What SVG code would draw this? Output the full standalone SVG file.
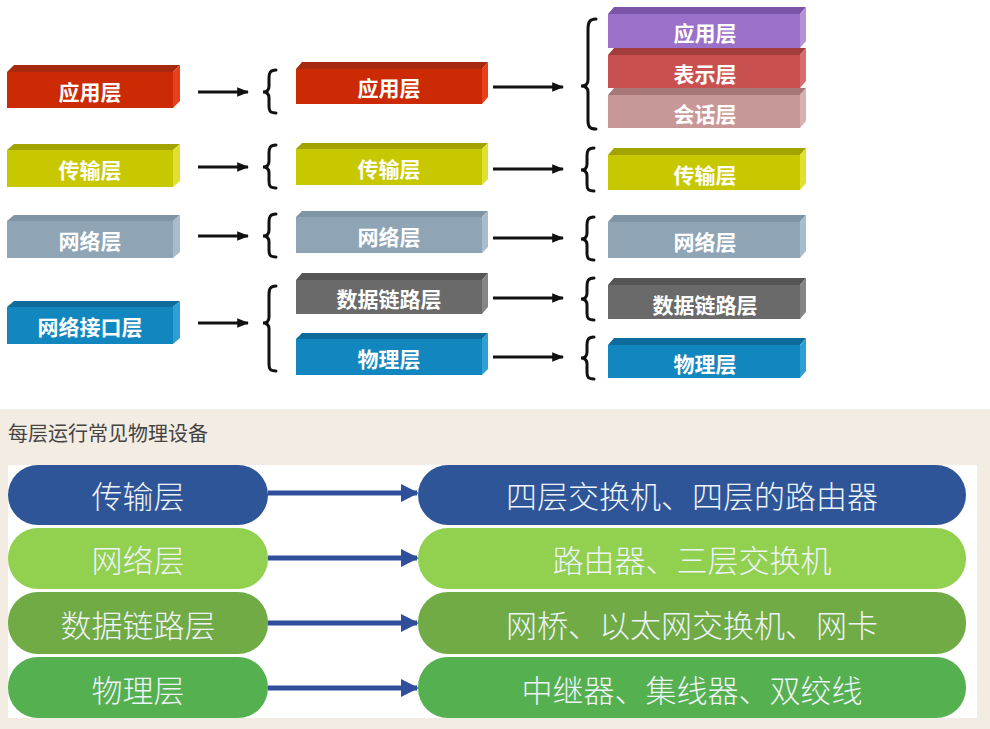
<svg xmlns="http://www.w3.org/2000/svg" width="990" height="729" viewBox="0 0 990 729">
<defs>
<style>
.t{font-family:"Noto Sans CJK SC","Noto Sans",sans-serif;font-weight:bold;font-size:21px;fill:#fff;text-anchor:middle;dominant-baseline:central}
.p{font-family:"Noto Sans CJK SC","Noto Sans",sans-serif;font-weight:300;font-size:31px;fill:#eef3f8;text-anchor:middle;dominant-baseline:central}
.ar{stroke:#111;stroke-width:3;fill:none}
.br{stroke:#111;stroke-width:3;fill:none;stroke-linecap:round}
.ba{stroke:#2f4f9a;stroke-width:5;fill:none}
</style>
<marker id="ah" viewBox="0 0 10 10" refX="9" refY="5" markerWidth="4" markerHeight="4" orient="auto" markerUnits="strokeWidth"><path d="M0,1 L10,5 L0,9 z" fill="#111"/></marker>
<marker id="bh" viewBox="0 0 10 10" refX="9" refY="5" markerWidth="3.6" markerHeight="3.6" orient="auto" markerUnits="strokeWidth"><path d="M0,0 L10,5 L0,10 z" fill="#2f4f9a"/></marker>
</defs>
<rect width="990" height="729" fill="#fff"/>

<!-- Left column -->
<g id="l-app">
<polygon points="7,72 14,65 180,65 173,72" fill="#a52a10"/>
<rect x="7" y="72" width="166" height="36" fill="#cc2a05"/>
<polygon points="173,72 180,65 180,101 173,108" fill="#e8401a"/>
<text class="t" x="90" y="91">应用层</text>
</g>
<g id="l-trans">
<polygon points="7,150 14,144 180,144 173,150" fill="#a3a300"/>
<rect x="7" y="150" width="166" height="37" fill="#c8c800"/>
<polygon points="173,150 180,144 180,181 173,187" fill="#e0e030"/>
<text class="t" x="90" y="169">传输层</text>
</g>
<g id="l-net">
<polygon points="7,221 14,215 180,215 173,221" fill="#7f95a5"/>
<rect x="7" y="221" width="166" height="37" fill="#8fa5b5"/>
<polygon points="173,221 180,215 180,252 173,258" fill="#a9bccb"/>
<text class="t" x="90" y="240">网络层</text>
</g>
<g id="l-nif">
<polygon points="7,307 14,301 180,301 173,307" fill="#0d6c9c"/>
<rect x="7" y="307" width="166" height="37" fill="#1287bf"/>
<polygon points="173,307 180,301 180,338 173,344" fill="#2fa0d5"/>
<text class="t" x="90" y="326">网络接口层</text>
</g>

<!-- Middle column -->
<g id="m-app">
<polygon points="296,69 302,62 488,62 482,69" fill="#a52a10"/>
<rect x="296" y="69" width="186" height="35" fill="#cc2a05"/>
<polygon points="482,69 488,62 488,97 482,104" fill="#e8401a"/>
<text class="t" x="389" y="87">应用层</text>
</g>
<g id="m-trans">
<polygon points="296,149 302,143 488,143 482,149" fill="#a3a300"/>
<rect x="296" y="149" width="186" height="36" fill="#c8c800"/>
<polygon points="482,149 488,143 488,179 482,185" fill="#e0e030"/>
<text class="t" x="389" y="168">传输层</text>
</g>
<g id="m-net">
<polygon points="296,217 302,211 488,211 482,217" fill="#7f95a5"/>
<rect x="296" y="217" width="186" height="36" fill="#8fa5b5"/>
<polygon points="482,217 488,211 488,247 482,253" fill="#a9bccb"/>
<text class="t" x="389" y="236">网络层</text>
</g>
<g id="m-dl">
<polygon points="296,280 302,273 488,273 482,280" fill="#555"/>
<rect x="296" y="280" width="186" height="34" fill="#6a6a6a"/>
<polygon points="482,280 488,273 488,307 482,314" fill="#858585"/>
<text class="t" x="389" y="298">数据链路层</text>
</g>
<g id="m-phy">
<polygon points="296,339 302,333 488,333 482,339" fill="#0d6c9c"/>
<rect x="296" y="339" width="186" height="36" fill="#1287bf"/>
<polygon points="482,339 488,333 488,369 482,375" fill="#2fa0d5"/>
<text class="t" x="389" y="358">物理层</text>
</g>

<!-- Right column -->
<g id="r-app">
<polygon points="608,14 614,7 806,7 800,14" fill="#7d55a8"/>
<rect x="608" y="14" width="192" height="34" fill="#9b70c8"/>
<polygon points="800,14 806,7 806,41 800,48" fill="#b392d8"/>
<text class="t" x="705" y="32">应用层</text>
</g>
<g id="r-pres">
<polygon points="608,55 614,48 806,48 800,55" fill="#a23d3d"/>
<rect x="608" y="55" width="192" height="33" fill="#c85050"/>
<polygon points="800,55 806,48 806,81 800,88" fill="#d86c6c"/>
<text class="t" x="705" y="73">表示层</text>
</g>
<g id="r-sess">
<polygon points="608,95 614,88 806,88 800,95" fill="#a87878"/>
<rect x="608" y="95" width="192" height="33" fill="#c89898"/>
<polygon points="800,95 806,88 806,121 800,128" fill="#d8b0b0"/>
<text class="t" x="705" y="113">会话层</text>
</g>
<g id="r-trans">
<polygon points="608,155 614,148 806,148 800,155" fill="#a3a300"/>
<rect x="608" y="155" width="192" height="35" fill="#c8c800"/>
<polygon points="800,155 806,148 806,183 800,190" fill="#e0e030"/>
<text class="t" x="705" y="174">传输层</text>
</g>
<g id="r-net">
<polygon points="608,222 614,215 806,215 800,222" fill="#7f95a5"/>
<rect x="608" y="222" width="192" height="36" fill="#8fa5b5"/>
<polygon points="800,222 806,215 806,251 800,258" fill="#a9bccb"/>
<text class="t" x="705" y="241">网络层</text>
</g>
<g id="r-dl">
<polygon points="608,285 614,278 806,278 800,285" fill="#555"/>
<rect x="608" y="285" width="192" height="34" fill="#6a6a6a"/>
<polygon points="800,285 806,278 806,312 800,319" fill="#858585"/>
<text class="t" x="705" y="304">数据链路层</text>
</g>
<g id="r-phy">
<polygon points="608,345 614,338 806,338 800,345" fill="#0d6c9c"/>
<rect x="608" y="345" width="192" height="33" fill="#1287bf"/>
<polygon points="800,345 806,338 806,371 800,378" fill="#2fa0d5"/>
<text class="t" x="705" y="363">物理层</text>
</g>

<g id="connectors">
<line class="ar" x1="198" y1="92" x2="248" y2="92" marker-end="url(#ah)"/>
<line class="ar" x1="198" y1="167" x2="248" y2="167" marker-end="url(#ah)"/>
<line class="ar" x1="198" y1="236" x2="248" y2="236" marker-end="url(#ah)"/>
<line class="ar" x1="198" y1="323" x2="248" y2="323" marker-end="url(#ah)"/>
<line class="ar" x1="493" y1="87" x2="563" y2="87" marker-end="url(#ah)"/>
<line class="ar" x1="493" y1="169" x2="563" y2="169" marker-end="url(#ah)"/>
<line class="ar" x1="493" y1="238" x2="563" y2="238" marker-end="url(#ah)"/>
<line class="ar" x1="493" y1="298" x2="563" y2="298" marker-end="url(#ah)"/>
<line class="ar" x1="493" y1="357" x2="563" y2="357" marker-end="url(#ah)"/>
<path class="br" d="M276,70 C270,70 269,73 269,78 L269,86 C269,90 267,92 263,92 C267,92 269,94 269,98 L269,106 C269,111 270,113 276,113"/>
<path class="br" d="M276,145 C270,145 269,148 269,153 L269,161 C269,165 267,167 263,167 C267,167 269,169 269,173 L269,181 C269,186 270,188 276,188"/>
<path class="br" d="M276,214 C270,214 269,217 269,222 L269,230 C269,234 267,236 263,236 C267,236 269,238 269,242 L269,250 C269,255 270,257 276,257"/>
<path class="br" d="M276,286 C270,286 269,289 269,295 L269,317 C269,321 267,323 263,323 C267,323 269,325 269,329 L269,364 C269,369 270,371 276,371"/>
<path class="br" d="M596,19 C589,19 588,23 588,30 L588,80 C588,84 586,86 581,86 C586,86 588,88 588,92 L588,120 C588,126 589,129 596,129"/>
<path class="br" d="M594,148 C588,148 587,151 587,156 L587,164 C587,168 585,170 581,170 C585,170 587,172 587,176 L587,184 C587,189 588,191 594,191"/>
<path class="br" d="M594,217 C588,217 587,220 587,225 L587,233 C587,237 585,239 581,239 C585,239 587,241 587,245 L587,253 C587,258 588,260 594,260"/>
<path class="br" d="M594,278 C588,278 587,281 587,286 L587,293 C587,297 585,299 581,299 C585,299 587,301 587,305 L587,313 C587,318 588,320 594,320"/>
<path class="br" d="M594,337 C588,337 587,340 587,345 L587,352 C587,356 585,358 581,358 C585,358 587,360 587,364 L587,372 C587,377 588,379 594,379"/>
</g>

<!-- Bottom section -->
<rect x="0" y="409" width="990" height="320" fill="#f3ece3"/>
<text x="8" y="441" font-family="Noto Sans CJK SC, Noto Sans, sans-serif" font-size="20" fill="#444">每层运行常见物理设备</text>
<rect x="8" y="465" width="969" height="253" fill="#fff"/>

<g id="b-trans-l"><rect x="8" y="465" width="260" height="60" rx="30" fill="#2e5597"/><text class="p" x="138" y="494">传输层</text></g>
<g id="b-trans-r"><rect x="418" y="465" width="548" height="60" rx="30" fill="#2e5597"/><text class="p" x="692" y="494">四层交换机、四层的路由器</text></g>
<g id="b-net-l"><rect x="8" y="528" width="260" height="61" rx="30" fill="#92d050"/><text class="p" x="138" y="558">网络层</text></g>
<g id="b-net-r"><rect x="418" y="528" width="548" height="61" rx="30" fill="#92d050"/><text class="p" x="692" y="558">路由器、三层交换机</text></g>
<g id="b-dl-l"><rect x="8" y="592" width="260" height="62" rx="30" fill="#70ab46"/><text class="p" x="138" y="623">数据链路层</text></g>
<g id="b-dl-r"><rect x="418" y="592" width="548" height="62" rx="30" fill="#70ab46"/><text class="p" x="692" y="623">网桥、以太网交换机、网卡</text></g>
<g id="b-phy-l"><rect x="8" y="657" width="260" height="61" rx="30" fill="#55b050"/><text class="p" x="138" y="688">物理层</text></g>
<g id="b-phy-r"><rect x="418" y="657" width="548" height="61" rx="30" fill="#55b050"/><text class="p" x="692" y="688">中继器、集线器、双绞线</text></g>

<g id="b-connectors">
<line class="ba" x1="268" y1="493" x2="417" y2="493" marker-end="url(#bh)"/>
<line class="ba" x1="268" y1="558" x2="417" y2="558" marker-end="url(#bh)"/>
<line class="ba" x1="268" y1="623" x2="417" y2="623" marker-end="url(#bh)"/>
<line class="ba" x1="268" y1="688" x2="417" y2="688" marker-end="url(#bh)"/>
</g>
</svg>
